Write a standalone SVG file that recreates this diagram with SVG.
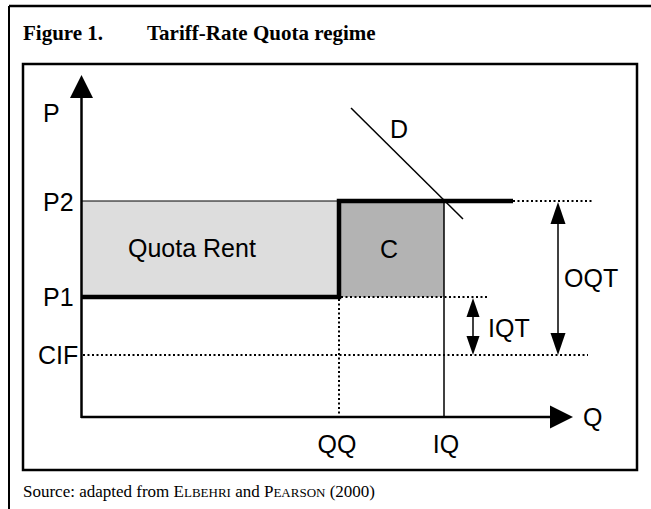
<svg xmlns="http://www.w3.org/2000/svg" width="651" height="509" viewBox="0 0 651 509">
<style>
.lbl{font-family:"Liberation Sans",Arial,sans-serif;font-size:25px;fill:#000}
.ttl{font-family:"Liberation Serif","Times New Roman",serif;font-size:21px;font-weight:bold;fill:#000}
.src{font-family:"Liberation Serif","Times New Roman",serif;font-size:17px;fill:#000}
.dot{stroke:#000;stroke-width:2;stroke-dasharray:2 2.5;fill:none}
.thick{stroke:#000;stroke-width:4.5;fill:none}
.thin{stroke:#000;stroke-width:1.5;fill:none}
</style>
<rect width="651" height="509" fill="#fff"/>
<g id="frame">
<line x1="9" y1="6" x2="651" y2="6" stroke="#000" stroke-width="2.5"/>
<line x1="9" y1="6" x2="9" y2="509" stroke="#000" stroke-width="2"/>
<rect x="23" y="64" width="614" height="406" fill="none" stroke="#000" stroke-width="2.5"/>
</g>
<g id="title">
<text class="ttl" x="23" y="40">Figure 1.</text>
<text class="ttl" x="147" y="40">Tariff-Rate Quota regime</text>
</g>
<g id="quota-rent">
<rect x="81" y="201" width="258" height="96" fill="#dddddd"/>
<line x1="81" y1="201" x2="339" y2="201" stroke="#000" stroke-width="1"/>
<text class="lbl" x="128" y="257" font-size="26.5">Quota Rent</text>
</g>
<g id="area-c">
<rect x="339" y="201" width="105" height="96" fill="#b3b3b3"/>
<text class="lbl" x="389" y="258" text-anchor="middle">C</text>
</g>
<g id="connectors">
<line class="dot" x1="513" y1="201" x2="592" y2="201"/>
<line class="dot" x1="341" y1="297" x2="489" y2="297"/>
<line class="dot" x1="83" y1="355" x2="588" y2="355"/>
<line class="dot" x1="339" y1="299" x2="339" y2="416"/>
<path class="thick" d="M81,297 H339 V201 H513"/>
<line class="thin" x1="444" y1="201" x2="444" y2="417"/>
<line class="thin" x1="351" y1="108" x2="463" y2="219"/>
<line x1="81.5" y1="98" x2="81.5" y2="418" stroke="#000" stroke-width="2.5"/>
<polygon points="81.5,75 70,98 93,98" fill="#000"/>
<line x1="81" y1="417" x2="551" y2="417" stroke="#000" stroke-width="2.5"/>
<polygon points="573,417 550,405.5 550,428.5" fill="#000"/>
<line class="thin" x1="558" y1="222" x2="558" y2="334"/>
<polygon points="558,202 550.5,224 565.5,224" fill="#000"/>
<polygon points="558,355 550.5,333 565.5,333" fill="#000"/>
<line class="thin" x1="473" y1="316" x2="473" y2="336"/>
<polygon points="473,298 466.5,317 479.5,317" fill="#000"/>
<polygon points="473,355 466.5,336 479.5,336" fill="#000"/>
</g>
<g id="labels">
<text class="lbl" x="43" y="122">P</text>
<text class="lbl" x="43" y="211">P2</text>
<text class="lbl" x="43" y="306">P1</text>
<text class="lbl" x="38" y="364">CIF</text>
<text class="lbl" x="390" y="138">D</text>
<text class="lbl" x="564" y="287">OQT</text>
<text class="lbl" x="488" y="337">IQT</text>
<text class="lbl" x="337" y="453" text-anchor="middle">QQ</text>
<text class="lbl" x="446" y="453" text-anchor="middle">IQ</text>
<text class="lbl" x="583" y="426">Q</text>
</g>
<g id="source">
<text class="src" x="23" y="497">Source: adapted from E<tspan font-size="13">LBEHRI</tspan> and P<tspan font-size="13">EARSON</tspan> (2000)</text>
</g>
</svg>
